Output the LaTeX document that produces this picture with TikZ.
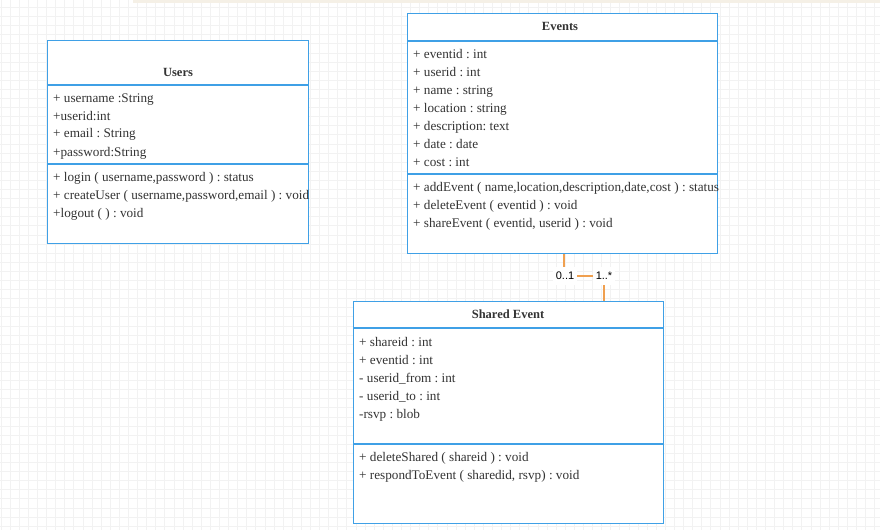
\documentclass[tikz,border=0pt]{standalone}
\usepackage{fontspec}
\setmainfont{Liberation Serif}
\newfontfamily\labelfont{Liberation Sans}
\definecolor{boxblue}{HTML}{3FA0E6}
\definecolor{txt}{HTML}{333333}
\definecolor{gridc}{HTML}{F2F2F2}
\definecolor{conn}{HTML}{F0A050}
\definecolor{topstrip}{HTML}{F5F0E6}
\begin{document}
\frenchspacing
\begin{tikzpicture}[x=1pt,y=-1pt,
  classbox/.style={draw=boxblue,line width=1.3pt,fill=white,inner sep=0pt,anchor=north west},
  sepline/.style={draw=boxblue,line width=1.3pt},
  member/.style={anchor=west,inner sep=0pt,text=txt,font=\fontsize{13.2}{15}\selectfont,text height=10pt,text depth=2pt},
  title/.style={inner sep=0pt,text=txt,font=\fontsize{12.5}{15}\selectfont\bfseries,text height=10pt,text depth=2pt},
  mult/.style={fill=white,text=black,font=\labelfont\fontsize{11}{13}\selectfont,inner xsep=2.5pt,inner ysep=5pt},
  connline/.style={draw=conn,line width=1.5pt}]
\useasboundingbox (0,0) rectangle (880,530);
\fill[white] (0,0) rectangle (880,530);
% grid
\foreach \i in {0,...,96} {\draw[gridc,line width=0.5pt] ({0.9+9.1*\i},0) -- ({0.9+9.1*\i},530);}
\foreach \j in {0,...,58} {\draw[gridc,line width=0.5pt] (0,{7.3+9.1*\j}) -- (880,{7.3+9.1*\j});}
\fill[topstrip] (133,0) rectangle (880,3);

% Users
\node[classbox,minimum width=261pt,minimum height=203pt] (users) at (47,40) {};
\draw[sepline] (47,85) -- (308,85);
\draw[sepline] (47,164) -- (308,164);
\node[title] (usersT) at (178,72) {Users};
\node[member] (u1) at (53,98) {+ username :String};
\node[member] (u2) at (53,116) {+userid:int};
\node[member] (u3) at (53,133) {+ email : String};
\node[member] (u4) at (53,152) {+password:String};
\node[member] (u5) at (53,177) {+ login ( username,password ) : status};
\node[member] (u6) at (53,195) {+ createUser ( username,password,email ) : void};
\node[member] (u7) at (53,213) {+logout ( ) : void};

% Events
\node[classbox,minimum width=310pt,minimum height=240pt] (events) at (407,13) {};
\draw[sepline] (407,41) -- (717,41);
\draw[sepline] (407,174) -- (717,174);
\node[title] (eventsT) at (560,26) {Events};
\node[member] (e1) at (413,54) {+ eventid : int};
\node[member] (e2) at (413,72) {+ userid : int};
\node[member] (e3) at (413,90) {+ name : string};
\node[member] (e4) at (413,108) {+ location : string};
\node[member] (e5) at (413,126) {+ description: text};
\node[member] (e6) at (413,144) {+ date : date};
\node[member] (e7) at (413,162) {+ cost : int};
\node[member] (e8) at (413,187) {+ addEvent ( name,location,description,date,cost ) : status};
\node[member] (e9) at (413,205) {+ deleteEvent ( eventid ) : void};
\node[member] (e10) at (413,223) {+ shareEvent ( eventid, userid ) : void};

% Shared Event
\node[classbox,minimum width=310pt,minimum height=222pt] (shared) at (353,301) {};
\draw[sepline] (353,328) -- (663,328);
\draw[sepline] (353,444) -- (663,444);
\node[title] (sharedT) at (508,314) {Shared Event};
\node[member] (s1) at (359,342) {+ shareid : int};
\node[member] (s2) at (359,360) {+ eventid : int};
\node[member] (s3) at (359,378) {- userid\_from : int};
\node[member] (s4) at (359,396) {- userid\_to : int};
\node[member] (s5) at (359,414) {-rsvp : blob};
\node[member] (s6) at (359,457) {+ deleteShared ( shareid ) : void};
\node[member] (s7) at (359,475) {+ respondToEvent ( sharedid, rsvp) : void};

% connector
\draw[connline] (events.south -| 564,0) |- (604,276) -- (shared.north -| 604,0);
\node[mult] (m1) at (565,276) {0..1};
\node[mult] (m2) at (604,276) {1..*};
\end{tikzpicture}
\end{document}
